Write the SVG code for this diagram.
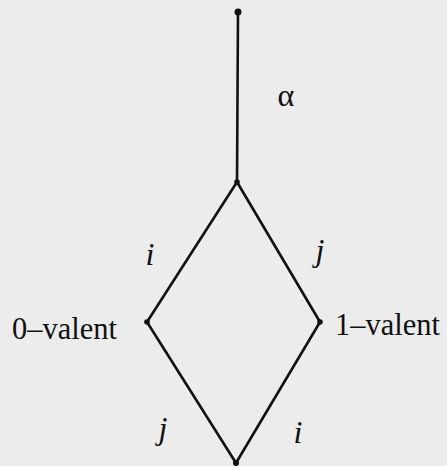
<svg xmlns="http://www.w3.org/2000/svg" width="447" height="466" viewBox="0 0 447 466">
<style>
.e{stroke:#111;stroke-width:2.6;fill:none;stroke-linecap:round}
.d{fill:#111}
.t{font-family:"Liberation Serif","Times New Roman",serif;font-size:32px;fill:#111}
.v{font-size:30.5px}
.it{font-style:italic}
</style>
<rect width="447" height="466" fill="#ececec"/>
<g id="connectors">
<line class="e" x1="238" y1="12" x2="237" y2="182"/>
<line class="e" x1="237" y1="182" x2="147" y2="322"/>
<line class="e" x1="237" y1="182" x2="320" y2="322"/>
<line class="e" x1="147" y1="322" x2="236" y2="463"/>
<line class="e" x1="320" y1="322" x2="236" y2="463"/>
<text class="t" x="286" y="106" text-anchor="middle">α</text>
<text class="t it" x="150" y="265" text-anchor="middle">i</text>
<text class="t it" x="320" y="261" text-anchor="middle">j</text>
<text class="t it" x="163" y="439" text-anchor="middle">j</text>
<text class="t it" x="298" y="443" text-anchor="middle">i</text>
</g>
<g id="top"><circle class="d" cx="238" cy="12" r="3.5"/></g>
<g id="mid"><circle class="d" cx="237" cy="182" r="2.8"/></g>
<g id="zero"><circle class="d" cx="147" cy="322" r="2.8"/><text class="t v" x="12" y="339">0–valent</text></g>
<g id="one"><circle class="d" cx="320" cy="322" r="2.8"/><text class="t v" x="335" y="335">1–valent</text></g>
<g id="bottom"><circle class="d" cx="236" cy="463" r="3"/></g>
</svg>
